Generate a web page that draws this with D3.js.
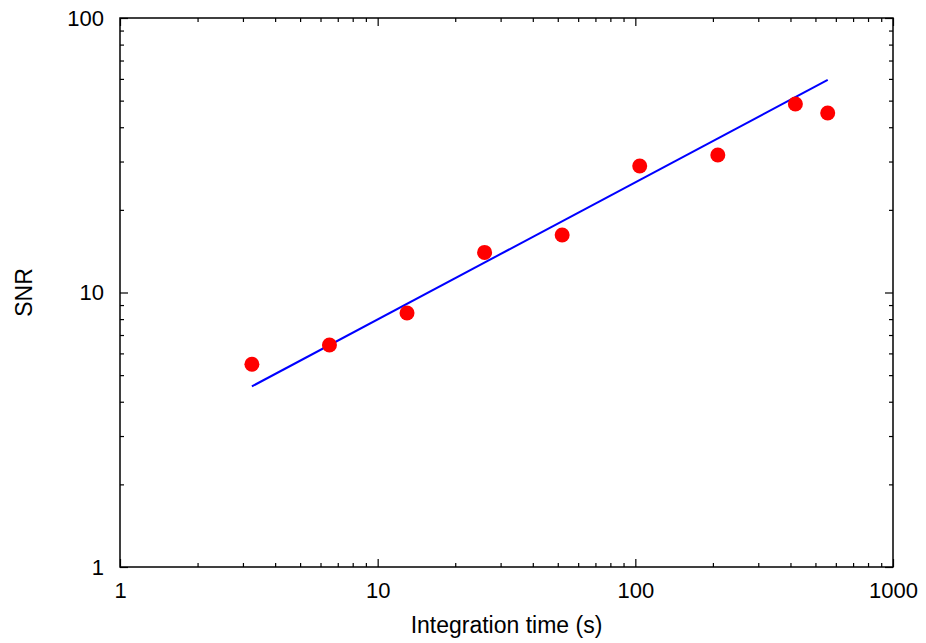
<!DOCTYPE html>
<meta charset="utf-8">
<head>
    <title>SNR vs integration time</title>
    <script src="https://d3js.org/d3.v7.min.js"></script>
    <style>
    body { margin: 0; background: #fff; }
    text { font-family: "Liberation Sans", Arial, sans-serif; fill: #000; }
    .axis path { display: none; }
    .axis line { stroke: #000; stroke-width: 1.2px; }
    .axis text { font-size: 22px; }
    .fit { fill: none; stroke: #0000ff; stroke-width: 2px; }
    </style>
</head>
<body>
<script>

// measured points
var timeS = [3.25, 6.5, 13, 26, 52, 104, 209, 418, 558];
var snr   = [5.48, 6.44, 8.42, 14.0, 16.2, 28.9, 31.7, 48.6, 45.1];

// fitted line end points
var fitTime = [3.25, 558];
var fitSnr  = [4.55, 59.5];

// tick labels
var xMajor = [1, 10, 100, 1000];
var yMajor = [1, 10, 100];

var margin = {top: 18, right: 33, bottom: 76, left: 120},
    width = 926 - margin.left - margin.right,
    height = 643 - margin.top - margin.bottom;

var x = d3.scaleLog().domain([1, 1000]).range([0, width]);
var y = d3.scaleLog().domain([1, 100]).range([height, 0]);

// minor ticks 2..9 in each decade
function minors(lo, hi) {
  var out = [];
  for (var d = lo; d < hi; d *= 10)
    for (var k = 2; k <= 9; k++) out.push(d * k);
  return out;
}
var xMinor = minors(1, 1000), yMinor = minors(1, 100);

var svg = d3.select("body").append("svg")
    .attr("width", 926)
    .attr("height", 643)
  .append("g")
    .attr("transform", "translate(" + margin.left + "," + margin.top + ")");

var fmt = function(d) { return d3.format("d")(d); };

// bottom axis with labels
svg.append("g").attr("class", "axis")
    .attr("transform", "translate(0," + height + ")")
    .call(d3.axisBottom(x).tickValues(xMajor).tickSize(-8).tickPadding(15).tickFormat(fmt));
svg.append("g").attr("class", "axis")
    .attr("transform", "translate(0," + height + ")")
    .call(d3.axisBottom(x).tickValues(xMinor).tickSize(-4).tickFormat(""));
// top mirror
svg.append("g").attr("class", "axis")
    .call(d3.axisTop(x).tickValues(xMajor).tickSize(-8).tickFormat(""));
svg.append("g").attr("class", "axis")
    .call(d3.axisTop(x).tickValues(xMinor).tickSize(-4).tickFormat(""));

// left axis with labels
svg.append("g").attr("class", "axis")
    .call(d3.axisLeft(y).tickValues(yMajor).tickSize(-8).tickPadding(16).tickFormat(fmt));
svg.append("g").attr("class", "axis")
    .call(d3.axisLeft(y).tickValues(yMinor).tickSize(-4).tickFormat(""));
// right mirror
svg.append("g").attr("class", "axis")
    .attr("transform", "translate(" + width + ",0)")
    .call(d3.axisRight(y).tickValues(yMajor).tickSize(-8).tickFormat(""));
svg.append("g").attr("class", "axis")
    .attr("transform", "translate(" + width + ",0)")
    .call(d3.axisRight(y).tickValues(yMinor).tickSize(-4).tickFormat(""));

// frame
svg.append("rect")
    .attr("width", width)
    .attr("height", height)
    .style("fill", "none")
    .style("stroke", "#000")
    .style("stroke-width", "1.5px");

// fit line
var line = d3.line()
    .x(function(d) { return x(d[0]); })
    .y(function(d) { return y(d[1]); });
svg.append("path")
    .datum(d3.zip(fitTime, fitSnr))
    .attr("class", "fit")
    .attr("d", line);

// data points
svg.selectAll(".dot")
    .data(d3.zip(timeS, snr))
  .enter().append("circle")
    .attr("class", "dot")
    .attr("cx", function(d) { return x(d[0]); })
    .attr("cy", function(d) { return y(d[1]); })
    .attr("r", 7.5)
    .style("fill", "#ff0000");

// axis titles
svg.append("text")
    .attr("x", width / 2)
    .attr("y", height + 66)
    .style("text-anchor", "middle")
    .style("font-size", "23px")
    .text("Integration time (s)");

svg.append("text")
    .attr("transform", "translate(" + (32 - margin.left) + "," + (height / 2) + ") rotate(-90)")
    .style("text-anchor", "middle")
    .style("font-size", "23px")
    .text("SNR");

</script>
</body>
